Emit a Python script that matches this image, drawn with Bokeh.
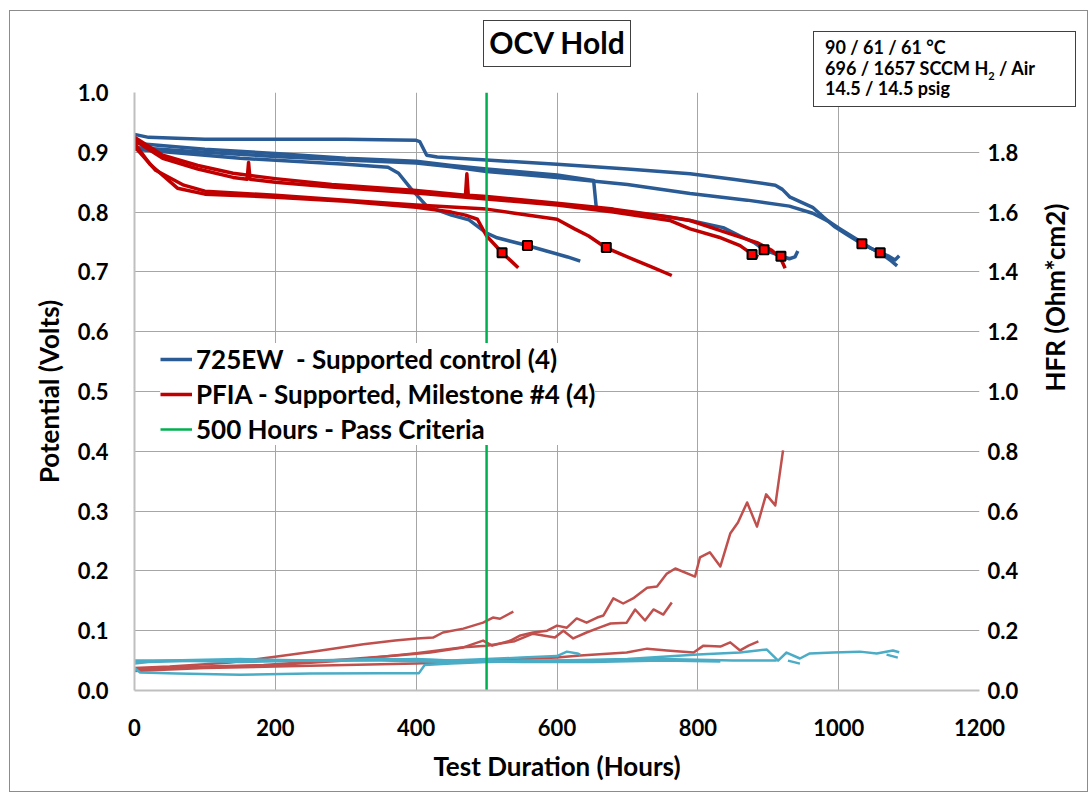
import math
from bokeh.plotting import figure
from bokeh.layouts import column
from bokeh.models import (Range1d, LinearAxis, Legend, LegendItem, FixedTicker,
                          PrintfTickFormatter, Div)
from bokeh.embed import file_html
from bokeh.resources import INLINE

NaN = float("nan")

# ---------------- data ----------------
x_ticks = [0, 200, 400, 600, 800, 1000, 1200]
potential_ticks = [0.0, 0.1, 0.2, 0.3, 0.4, 0.5, 0.6, 0.7, 0.8, 0.9, 1.0]
hfr_ticks = [0.0, 0.2, 0.4, 0.6, 0.8, 1.0, 1.2, 1.4, 1.6, 1.8]
pass_criteria_hours = 500

# 725EW - supported control, cell potential (V) vs test hours
ew_a_hours = [0, 150, 300, 360, 375, 392, 415, 450, 475, 500, 515, 555, 585, 615, 633]
ew_a_volts = [0.905, 0.89, 0.88, 0.875, 0.865, 0.84, 0.81, 0.795, 0.787, 0.765, 0.757, 0.745, 0.735, 0.725, 0.718]

ew_b_hours = [0, 100, 200, 300, 400, 450, 500, 600, 652, 656, 700, 750, 789, 836, 860, 880, 894, 917, 930, 938, 942]
ew_b_volts = [0.915, 0.905, 0.898, 0.89, 0.885, 0.878, 0.872, 0.862, 0.853, 0.805, 0.8, 0.793, 0.786, 0.774, 0.76, 0.749, 0.737, 0.727, 0.722, 0.725, 0.735]

ew_c_hours = [0, 20, 100, 200, 300, 400, 405, 415, 430, 500, 600, 700, 789, 850, 910, 920, 931, 963, 978, 995, 1015, 1033, 1050, 1070, 1080, 1086]
ew_c_volts = [0.93, 0.925, 0.922, 0.922, 0.922, 0.92, 0.918, 0.895, 0.892, 0.887, 0.88, 0.872, 0.864, 0.855, 0.845, 0.838, 0.825, 0.808, 0.792, 0.775, 0.76, 0.747, 0.737, 0.727, 0.72, 0.727]

ew_d_hours = [0, 100, 200, 300, 400, 450, 500, 600, 700, 789, 870, 930, 963, 985, 1002, 1025, 1045, 1059, 1075, 1083]
ew_d_volts = [0.908, 0.9, 0.893, 0.887, 0.882, 0.876, 0.868, 0.858, 0.846, 0.831, 0.82, 0.81, 0.798, 0.785, 0.772, 0.755, 0.74, 0.732, 0.718, 0.71]

# PFIA - supported, milestone #4, cell potential (V) vs test hours
pfia_a_hours = [0, 22, 61, 100, 200, 300, 400, 450, 470, 487, 500, 512, 522, 535, 545]
pfia_a_volts = [0.915, 0.88, 0.84, 0.83, 0.825, 0.818, 0.808, 0.8, 0.795, 0.788, 0.76, 0.745, 0.732, 0.718, 0.707]

pfia_b_hours = [0, 30, 70, 100, 200, 300, 400, 500, 540, 600, 625, 645, 670, 690, 710, 735, 763]
pfia_b_volts = [0.91, 0.87, 0.845, 0.835, 0.828, 0.82, 0.812, 0.805, 0.798, 0.788, 0.772, 0.76, 0.74, 0.73, 0.72, 0.708, 0.694]

pfia_c_hours = [0, 40, 90, 140, 160, 162, 164, 200, 280, 400, 500, 600, 680, 760, 789, 830, 860, 878, 886]
pfia_c_volts = [0.92, 0.89, 0.872, 0.858, 0.855, 0.883, 0.855, 0.85, 0.842, 0.832, 0.822, 0.812, 0.8, 0.786, 0.772, 0.758, 0.744, 0.729, 0.725]

pfia_d_hours = [0, 40, 90, 140, 200, 280, 400, 470, 472, 474, 500, 600, 680, 760, 789, 830, 884, 905, 917, 924]
pfia_d_volts = [0.925, 0.895, 0.878, 0.865, 0.856, 0.846, 0.836, 0.828, 0.864, 0.828, 0.826, 0.815, 0.805, 0.792, 0.786, 0.77, 0.749, 0.736, 0.724, 0.706]

# end-of-test markers (hours, V)
marker_hours = [522, 558, 670, 877, 894, 918, 1033, 1059]
marker_volts = [0.732, 0.744, 0.741, 0.729, 0.737, 0.726, 0.747, 0.732]

# HFR (Ohm*cm2) vs test hours, right axis
hfr_ew_a_hours = [0, 20, 100, 200, 300, 400, 450, 500, 550, 600, 614, 629, 633]
hfr_ew_a = [0.09, 0.095, 0.1, 0.1, 0.1, 0.105, 0.1, 0.105, 0.11, 0.115, 0.13, 0.124, 0.12]

hfr_ew_b_hours = [0, 50, 150, 250, 350, 450, 550, 650, 750, 850, 912, 920, 928, 945]
hfr_ew_b = [0.095, 0.1, 0.095, 0.1, 0.1, 0.095, 0.1, 0.1, 0.105, 0.1, 0.1, NaN, 0.1, 0.09]

hfr_ew_c_hours = [0, 8, 60, 150, 250, 350, 404, 412, 450, 500, 600, 700, 800, 860, 898, 914, 926, 945, 959, 992, 1030, 1054, 1077, 1086]
hfr_ew_c = [0.075, 0.06, 0.057, 0.053, 0.057, 0.058, 0.058, 0.085, 0.09, 0.095, 0.1, 0.105, 0.12, 0.127, 0.137, 0.1, 0.127, 0.107, 0.124, 0.127, 0.13, 0.124, 0.134, 0.128]

hfr_ew_d_hours = [0, 50, 150, 250, 350, 450, 550, 650, 750, 832, 950, 1068, 1084]
hfr_ew_d = [0.1, 0.1, 0.105, 0.1, 0.105, 0.1, 0.095, 0.095, 0.1, 0.097, NaN, 0.12, 0.11]

hfr_pfia_a_hours = [0, 50, 100, 136, 197, 260, 325, 370, 401, 424, 438, 467, 495, 509, 519, 538]
hfr_pfia_a = [0.075, 0.08, 0.088, 0.094, 0.112, 0.132, 0.155, 0.167, 0.174, 0.177, 0.194, 0.207, 0.227, 0.244, 0.24, 0.264]

hfr_pfia_b_hours = [0, 50, 100, 183, 278, 373, 420, 467, 495, 508, 534, 548, 566, 586, 600, 614, 628, 642, 657, 666, 680, 694, 708, 728, 742, 756, 768, 796, 803, 817, 832, 846, 857, 870, 884, 897, 910, 921]
hfr_pfia_b = [0.07, 0.075, 0.08, 0.085, 0.1, 0.117, 0.127, 0.144, 0.167, 0.15, 0.167, 0.184, 0.194, 0.2, 0.217, 0.21, 0.241, 0.227, 0.244, 0.251, 0.308, 0.291, 0.308, 0.344, 0.348, 0.391, 0.408, 0.381, 0.445, 0.462, 0.415, 0.525, 0.562, 0.629, 0.548, 0.656, 0.619, 0.803]

hfr_pfia_c_hours = [0, 100, 200, 300, 400, 467, 500, 540, 566, 597, 609, 623, 642, 661, 676, 699, 711, 725, 737, 751, 763]
hfr_pfia_c = [0.07, 0.078, 0.085, 0.1, 0.125, 0.145, 0.15, 0.165, 0.19, 0.177, 0.2, 0.174, 0.194, 0.211, 0.224, 0.227, 0.271, 0.234, 0.271, 0.254, 0.294]

hfr_pfia_d_hours = [0, 100, 200, 300, 400, 500, 550, 600, 633, 699, 728, 756, 794, 808, 832, 846, 860, 872, 886]
hfr_pfia_d = [0.065, 0.075, 0.08, 0.085, 0.09, 0.1, 0.105, 0.11, 0.117, 0.127, 0.14, 0.134, 0.127, 0.15, 0.147, 0.161, 0.134, 0.15, 0.164]

# ---------------- styling ----------------
FONT = "Lato"
TXT = "#000000"
BLUE = "#2A5B94"
RED = "#C00000"
CYAN = "#4BACC6"
HFR_RED = "#C0504D"
GREEN = "#00B050"
GRID = "#A6A6A6"

W, H = 1092, 798
p = figure(width=W, height=H, output_backend="svg", toolbar_location=None,
           x_range=Range1d(0, 1200), y_range=Range1d(0, 1.0),
           min_border_left=134, min_border_right=113, min_border_top=92,
           min_border_bottom=108)
p.extra_y_ranges = {"hfr": Range1d(0, 2.0)}
p.outline_line_color = None
p.background_fill_color = "white"
p.border_fill_color = "white"

# grids
p.xgrid.ticker = FixedTicker(ticks=x_ticks)
p.ygrid.ticker = FixedTicker(ticks=potential_ticks)
for g in (p.xgrid, p.ygrid):
    g.grid_line_color = GRID
    g.grid_line_width = 1

def style_axis(ax):
    ax.major_tick_out = 0
    ax.major_tick_in = 0
    ax.minor_tick_out = 0
    ax.minor_tick_in = 0
    ax.major_label_text_font = FONT
    ax.major_label_text_font_size = "22px"
    ax.major_label_text_font_style = "bold"
    ax.major_label_text_color = TXT
    ax.axis_label_text_font = FONT
    ax.axis_label_text_font_size = "26px"
    ax.axis_label_text_font_style = "bold"
    ax.axis_label_text_color = TXT

xa = p.xaxis[0]
style_axis(xa)
xa.ticker = FixedTicker(ticks=x_ticks)
xa.axis_label = "Test Duration (Hours)"
xa.axis_line_color = "#BFBFBF"
xa.axis_line_width = 2
xa.major_label_standoff = 28
xa.axis_label_standoff = 11

ya = p.yaxis[0]
style_axis(ya)
ya.ticker = FixedTicker(ticks=potential_ticks)
ya.formatter = PrintfTickFormatter(format="%.1f")
ya.axis_label = "Potential (Volts)"
ya.axis_line_color = "#BFBFBF"
ya.axis_line_width = 2
ya.major_label_standoff = 26
ya.axis_label_standoff = 10

ra = LinearAxis(y_range_name="hfr")
style_axis(ra)
ra.ticker = FixedTicker(ticks=hfr_ticks)
ra.formatter = PrintfTickFormatter(format="%.1f")
ra.axis_label = "HFR (Ohm*cm2)"
ra.axis_line_color = None
ra.major_label_standoff = 8
ra.axis_label_standoff = 34
try:
    ra.axis_label_orientation = math.pi / 2
except Exception:
    pass
p.add_layout(ra, "right")

# HFR lines (right axis)
for hx, hy in [(hfr_pfia_a_hours, hfr_pfia_a), (hfr_pfia_b_hours, hfr_pfia_b),
               (hfr_pfia_c_hours, hfr_pfia_c), (hfr_pfia_d_hours, hfr_pfia_d)]:
    p.line(hx, hy, y_range_name="hfr", line_color=HFR_RED, line_width=2.5,
           line_join="round")
for hx, hy in [(hfr_ew_a_hours, hfr_ew_a), (hfr_ew_b_hours, hfr_ew_b),
               (hfr_ew_c_hours, hfr_ew_c), (hfr_ew_d_hours, hfr_ew_d)]:
    p.line(hx, hy, y_range_name="hfr", line_color=CYAN, line_width=2.5,
           line_join="round")

# potential lines
blue_r = []
for vx, vy in [(ew_a_hours, ew_a_volts), (ew_b_hours, ew_b_volts),
               (ew_c_hours, ew_c_volts), (ew_d_hours, ew_d_volts)]:
    blue_r.append(p.line(vx, vy, line_color=BLUE, line_width=3.5, line_join="round"))
red_r = []
for vx, vy in [(pfia_a_hours, pfia_a_volts), (pfia_b_hours, pfia_b_volts),
               (pfia_c_hours, pfia_c_volts), (pfia_d_hours, pfia_d_volts)]:
    red_r.append(p.line(vx, vy, line_color=RED, line_width=3.5, line_join="round"))

# pass criteria line
green_r = p.line([pass_criteria_hours, pass_criteria_hours],
                 [p.y_range.start, p.y_range.end], line_color=GREEN, line_width=2.5)

# markers
p.scatter(marker_hours, marker_volts, marker="square", size=9,
          fill_color="#FF0000", line_color="#000000", line_width=2)

legend = Legend(items=[
    LegendItem(label="725EW  - Supported control (4)", renderers=[blue_r[0]]),
    LegendItem(label="PFIA - Supported, Milestone #4 (4)", renderers=[red_r[0]]),
    LegendItem(label="500 Hours - Pass Criteria", renderers=[green_r]),
], location=(26, 245))
legend.label_text_font = FONT
legend.label_text_font_size = "26px"
legend.label_text_font_style = "bold"
legend.label_text_color = TXT
legend.border_line_color = None
legend.background_fill_alpha = 1
legend.glyph_width = 32
legend.glyph_height = 26
legend.label_height = 26
legend.spacing = 3
legend.padding = 10
legend.margin = 0
legend.label_standoff = 4
p.add_layout(legend)

# chart title, conditions box and outer chart border, overlaid on the figure
title_div = Div(
    text="OCV Hold", width=148, height=47, margin=0,
    styles={"position": "absolute", "left": "483px", "top": "20px",
            "width": "148px", "height": "47px", "box-sizing": "border-box",
            "border": "1.5px solid #404040", "background": "white",
            "text-align": "center", "font-family": FONT, "font-weight": "bold",
            "font-size": "30px", "line-height": "43px", "color": TXT,
            "margin": "0", "z-index": "5"})
info = Div(
    text=("90 / 61 / 61 \u00b0C<br>"
          "696 / 1657 SCCM H<sub style='font-size:11px;line-height:0'>2</sub> / Air<br>"
          "14.5 / 14.5 psig"),
    width=263, height=76, margin=0,
    styles={"position": "absolute", "left": "813px", "top": "31px",
            "width": "263px", "height": "76px", "box-sizing": "border-box",
            "border": "1.5px solid #404040", "background": "white",
            "padding": "5px 11px", "font-family": FONT, "font-weight": "bold",
            "font-size": "18px", "line-height": "20.5px", "color": TXT,
            "margin": "0", "z-index": "5"})
frame_div = Div(
    text="", width=1079, height=782, margin=0,
    styles={"position": "absolute", "left": "9px", "top": "10px",
            "width": "1079px", "height": "782px", "box-sizing": "border-box",
            "border": "1px solid #8C8C8C", "pointer-events": "none",
            "margin": "0", "z-index": "4"})

layout = column(p, title_div, info, frame_div)
open("out.html", "w").write(file_html(layout, INLINE))
